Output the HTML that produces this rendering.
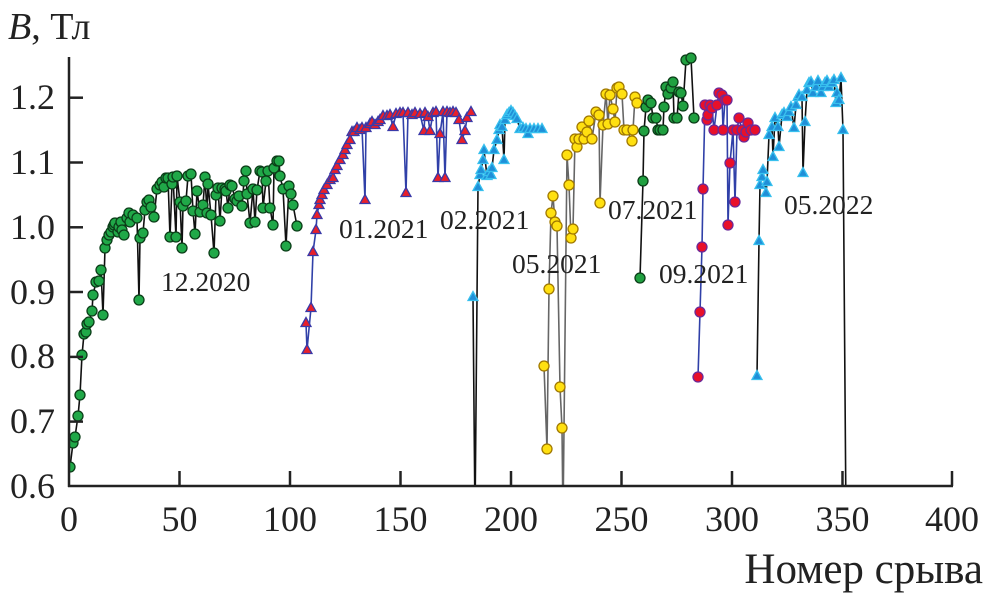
<!DOCTYPE html>
<html><head><meta charset="utf-8"><style>
html,body{margin:0;padding:0;background:#fff;}
svg text{font-family:"Liberation Serif",serif;fill:#222;}
</style></head><body>
<svg id="s" width="988" height="597" viewBox="0 0 988 597" xmlns="http://www.w3.org/2000/svg">
<defs><clipPath id="c"><rect x="69" y="40" width="900" height="446"/></clipPath></defs>
<g id="plot" clip-path="url(#c)"></g>
<g stroke="#222" stroke-width="2.5" fill="none">
<line x1="69" y1="57" x2="69" y2="487"/>
<line x1="68" y1="486" x2="953" y2="486"/>
<line x1="69" y1="97.7" x2="83" y2="97.7"/><line x1="69" y1="162.5" x2="83" y2="162.5"/>
<line x1="69" y1="227.3" x2="83" y2="227.3"/><line x1="69" y1="292" x2="83" y2="292"/>
<line x1="69" y1="356.9" x2="83" y2="356.9"/><line x1="69" y1="421.6" x2="83" y2="421.6"/>
<line x1="179.5" y1="486" x2="179.5" y2="471"/><line x1="290" y1="486" x2="290" y2="471"/>
<line x1="400.5" y1="486" x2="400.5" y2="471"/><line x1="511" y1="486" x2="511" y2="471"/>
<line x1="621.5" y1="486" x2="621.5" y2="471"/><line x1="732" y1="486" x2="732" y2="471"/>
<line x1="842.5" y1="486" x2="842.5" y2="471"/><line x1="952" y1="486" x2="952" y2="471"/>
</g>
<g font-size="36" text-anchor="end">
<text x="55" y="109">1.2</text><text x="55" y="174">1.1</text><text x="55" y="239">1.0</text>
<text x="55" y="304">0.9</text><text x="55" y="368">0.8</text><text x="55" y="433">0.7</text>
<text x="55" y="498">0.6</text>
</g>
<g font-size="36" text-anchor="middle">
<text x="69" y="531">0</text><text x="179.5" y="531">50</text><text x="290" y="531">100</text>
<text x="400.5" y="531">150</text><text x="511" y="531">200</text><text x="621.5" y="531">250</text>
<text x="732" y="531">300</text><text x="842.5" y="531">350</text><text x="952" y="531">400</text>
</g>
<text x="983" y="583" font-size="43" text-anchor="end">Номер срыва</text>
<text x="8" y="39" font-size="38"><tspan font-style="italic">B</tspan>, Тл</text>
<g font-size="27.5">
<text x="161" y="291">12.2020</text>
<text x="339" y="238">01.2021</text>
<text x="440" y="229">02.2021</text>
<text x="512" y="273">05.2021</text>
<text x="608" y="219">07.2021</text>
<text x="659" y="283">09.2021</text>
<text x="784" y="214">05.2022</text>
</g>
</svg>
<script>
const S=[
{line:"#111",m:"c",f:"#20a848",st:"#0b3d18",p:[[70,467],[73,443],[75,437],[78,416],[80,395],[82,355],[84,334],[86,332],[87,324],[89,322],[92,311],[93,295],[96,282],[99,281],[101,270],[103,315],[105,248],[107,240],[109,235],[111,232],[113,227],[114,225],[115,223],[118,232],[119,227],[121,222],[122,230],[124,235],[127,218],[129,213],[130,222],[133,215],[137,218],[139,300],[140,238],[143,233],[145,210],[147,202],[149,200],[151,207],[154,217],[157,189],[160,185],[162,182],[164,187],[166,178],[168,178],[170,237],[172,184],[173,177],[176,237],[177,176],[180,202],[182,248],[183,206],[186,201],[188,176],[191,174],[193,211],[195,234],[197,191],[200,212],[203,205],[205,177],[207,213],[208,184],[211,215],[214,253],[216,195],[218,188],[220,221],[222,188],[225,189],[226,191],[228,208],[230,185],[232,186],[235,199],[237,201],[239,196],[242,206],[244,181],[246,171],[247,194],[250,223],[253,189],[255,222],[257,190],[260,171],[262,172],[263,208],[266,181],[268,171],[270,208],[273,225],[274,168],[277,161],[279,161],[280,176],[283,189],[286,246],[289,186],[291,194],[293,205],[297,226]]},
{line:"#3040a8",m:"t",f:"#e8202a",st:"#3a3aa8",p:[[306,323],[307,350],[311,308],[313,252],[316,230],[317,215],[319,205],[320,200],[322,195],[324,190],[327,185],[330,180],[333,178],[335,170],[337,166],[340,160],[343,155],[345,150],[347,145],[350,140],[352,132],[354,132],[357,128],[360,130],[362,128],[365,200],[366,128],[370,124],[372,122],[375,125],[378,122],[380,120],[383,116],[387,116],[390,115],[393,127],[396,114],[400,113],[403,113],[406,193],[408,113],[412,115],[415,113],[420,114],[424,131],[425,113],[428,117],[430,131],[433,113],[436,112],[438,178],[440,134],[443,112],[445,178],[447,112],[450,113],[453,112],[456,113],[459,120],[462,140],[465,131],[467,118],[471,112]]},
{line:"#111",m:"t",f:"#1f8fd8",st:"#38c0ee",p:[[473,297],[475,520,1],[478,187],[480,175],[481,170],[483,160],[484,150],[487,176],[489,172],[491,175],[492,168],[494,150],[497,140],[499,130],[500,125],[502,127],[504,160],[505,120],[507,115],[509,113],[511,111],[513,113],[515,116],[517,119],[520,129],[523,128],[526,129],[528,134],[530,129],[534,129],[538,129],[542,129]]},
{line:"#666",m:"c",f:"#ffe010",st:"#a07800",p:[[544,366],[547,449],[549,289],[551,213],[553,196],[555,222],[557,226],[560,387],[562,428],[563,520,1],[567,155],[569,185],[571,238],[573,229],[575,139],[577,147],[579,139],[582,127],[584,139],[587,132],[589,121],[592,139],[596,112],[599,115],[600,203],[603,125],[606,94],[608,124],[610,95],[613,109],[615,122],[617,88],[619,87],[622,94],[624,130],[627,130],[632,141],[633,130],[635,97],[637,103]]},
{line:"#111",m:"c",f:"#20a040",st:"#0b3d18",p:[[640,278],[643,181],[644,131],[646,107],[648,100],[651,103],[653,118],[656,118],[658,130],[660,130],[663,130],[664,107],[666,87],[668,94],[671,88],[673,82],[674,118],[677,118],[679,92],[681,93],[683,106],[686,60],[691,58],[694,118]]},
{line:"#3040a8",m:"c",f:"#e8102a",st:"#6a2a9a",p:[[698,377],[700,312],[702,247],[703,189],[705,105],[707,120],[708,115],[710,105],[712,108],[714,130],[717,105],[719,93],[722,95],[723,130],[725,100],[727,100],[728,225],[730,163],[733,130],[735,202],[737,130],[739,118],[742,130],[744,137],[746,132],[748,123],[751,130],[755,130]]},
{line:"#111",m:"t",f:"#1f8fd8",st:"#38c0ee",p:[[757,376],[759,241],[760,185],[762,177],[763,170],[766,193],[767,182],[769,135],[772,127],[773,157],[775,118],[778,127],[779,147],[782,115],[784,113],[787,117],[789,112],[791,107],[794,128],[796,105],[798,97],[799,95],[802,97],[803,173],[805,122],[807,90],[809,83],[811,82],[813,93],[816,87],[818,81],[821,93],[823,87],[825,83],[827,81],[829,87],[832,83],[834,80],[836,103],[837,93],[839,100],[841,78],[843,130],[846,520,1]]}
];
const NS="http://www.w3.org/2000/svg",g=document.getElementById("plot");
function el(n,a){const e=document.createElementNS(NS,n);for(const k in a)e.setAttribute(k,a[k]);g.appendChild(e);return e;}
S.forEach(s=>{el("polyline",{points:s.p.map(q=>q[0]+","+q[1]).join(" "),fill:"none",stroke:s.line,"stroke-width":1.6});});
S.forEach(s=>{s.p.forEach(q=>{if(q[2])return;const[x,y]=q;
 if(s.m=="c")el("circle",{cx:x,cy:y,r:5,fill:s.f,stroke:s.st,"stroke-width":1.3});
 else el("polygon",{points:`${x},${y-5.5} ${x-5},${y+3.5} ${x+5},${y+3.5}`,fill:s.f,stroke:s.st,"stroke-width":1.3});});});
</script>
</body></html>
